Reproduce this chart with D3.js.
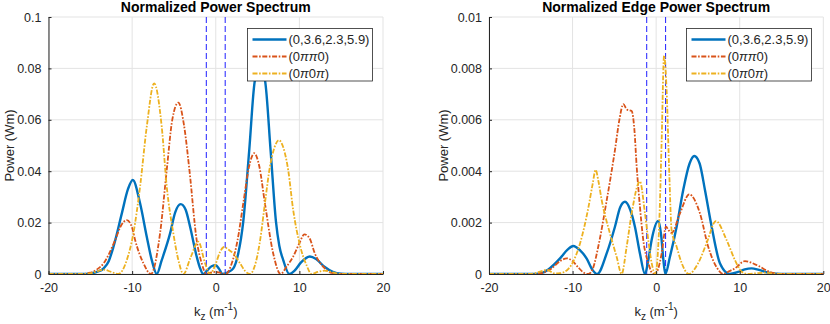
<!DOCTYPE html>
<html>
<head>
<meta charset="utf-8">
<script src="https://cdn.jsdelivr.net/npm/d3@7"></script>
<style>
  body { margin: 0; background: #fff; }
  svg { display: block; font-family: "Liberation Sans", Arial, Helvetica, sans-serif; }
  .tick text { fill: #262626; }
</style>
</head>
<body>
<svg id="chart" width="830" height="324"></svg>
<script>
// ---- data (k in 1/m, power in Wm) ----
const xTicks = [-20, -10, 0, 10, 20]
const xTickLabels = ["-20", "-10", "0", "10", "20"]
const leftYTicks = [0, 0.02, 0.04, 0.06, 0.08, 0.1]
const leftYTickLabels = ["0", "0.02", "0.04", "0.06", "0.08", "0.1"]
const rightYTicks = [0, 0.002, 0.004, 0.006, 0.008, 0.01]
const rightYTickLabels = ["0", "0.002", "0.004", "0.006", "0.008", "0.01"]
const seriesNames = ["(0,3.6,2.3,5.9)", "(0\u03c0\u03c00)", "(0\u03c00\u03c0)"]
const cutoffK = [-1.13, 1.13]

const powerMixed = [[-20,0],[-16,0],[-15,0.0002],[-14.2,0.0008],[-13.4,0.0022],[-12.8,0.005],[-12.23,0.0106],
  [-11.23,0.0236],[-10.5,0.033],[-9.92,0.0366],[-9.05,0.0275],[-8.25,0.0145],[-7.65,0.0054],[-7.05,0],
  [-6.46,0.0054],[-5.46,0.0158],[-4.85,0.024],[-4.19,0.0272],[-3.6,0.025],[-3.07,0.0184],[-2.28,0.0068],
  [-1.9,0.0025],[-1.5,0],[-1.0,0.0015],[-0.5,0.003],[0,0.0034],[0.4,0.002],[0.8,0],[1.4,0.0006],[2.1,0.0022],
  [2.69,0.008],[3.29,0.0204],[4.0,0.048],[4.69,0.0755],[5.3,0.08],[5.88,0.0755],[6.56,0.048],[7.2,0.0204],
  [7.6,0.011],[8.07,0.0054],[8.8,0],[9.4,0.0012],[10.2,0.0045],[11.25,0.0068],[12.0,0.0058],[13.0,0.0028],
  [14.0,0.0008],[15,0.0001],[16,0],[20,0]]
const powerPiPi = [[-20,0],[-16,0],[-15,0.0005],[-14.2,0.0018],[-13.4,0.0042],[-12.03,0.0132],[-11.3,0.019],
  [-10.64,0.021],[-10.0,0.018],[-9.64,0.0132],[-8.65,0.0042],[-7.75,0],[-6.66,0.0158],[-5.86,0.0405],
  [-5.2,0.06],[-4.47,0.0667],[-3.8,0.058],[-3.15,0.0405],[-2.28,0.0132],[-1.68,0.0042],[-1.1,0],
  [-0.5,0.0006],[0,0.0008],[0.5,0.0005],[1.2,0],[1.9,0.004],[2.6,0.013],[3.29,0.0275],[4.0,0.042],
  [4.6,0.047],[5.2,0.042],[5.88,0.0275],[6.87,0.008],[7.75,0],[8.5,0.003],[9.26,0.0068],[10.0,0.012],
  [10.6,0.0154],[11.2,0.014],[11.85,0.008],[13.05,0.0022],[13.85,0.0004],[15,0],[20,0]]
const powerPi0Pi = [[-20,0],[-16,0],[-15,0.0002],[-14.2,0.001],[-13.4,0.0017],[-12.5,0.0008],[-11.64,0],
  [-10.64,0.0054],[-9.85,0.0158],[-9.05,0.034],[-8.25,0.0573],[-7.37,0.0742],[-6.46,0.0573],[-5.86,0.034],
  [-5.07,0.0158],[-4.47,0.0054],[-3.87,0],[-3.0,0.0065],[-2.08,0.0126],[-1.28,0.0042],[-0.7,0],[0,0.004],
  [0.5,0.0085],[1.0,0.0105],[1.5,0.0095],[2.1,0.008],[2.9,0.0042],[3.5,0.0012],[4.09,0],[4.69,0.0034],
  [5.28,0.0126],[5.88,0.0275],[6.48,0.0418],[7.0,0.049],[7.55,0.0521],[8.1,0.049],[8.66,0.0405],
  [9.26,0.0249],[10.06,0.0113],[10.86,0.0034],[11.45,0],[12.2,0.0008],[13.0,0.0013],[14.0,0.0006],[15,0],[20,0]]

const edgeMixed = [[-20,0],[-15,0],[-13.9,0.00002],[-12.9,0.00018],[-11.5,0.00061],[-10.6,0.00095],
  [-9.92,0.00109],[-9.1,0.00092],[-8.31,0.0006],[-7.6,0.00015],[-7.05,0],[-5.92,0.0008],[-4.93,0.00184],
  [-4.3,0.0026],[-3.73,0.00281],[-3.1,0.0025],[-2.54,0.00184],[-1.94,0.0008],[-1.34,0],[-0.94,0.00054],
  [-0.54,0.00132],[0.25,0.00206],[0.6,0.0015],[0.85,0.0006],[1.1,0],[1.65,0.00067],[2.45,0.00184],
  [3.24,0.00327],[4.0,0.0043],[4.56,0.00459],[5.2,0.0043],[5.84,0.00327],[6.64,0.00184],[7.63,0.00042],
  [8.8,0],[9.8,0.00008],[10.6,0.00018],[11.42,0.00022],[12.3,0.00016],[13.6,0.00004],[15,0],[20,0]]
const edgePiPi = [[-20,0],[-15,0],[-13.9,0.00002],[-12.5,0.00022],[-11.5,0.0005],[-10.7,0.00061],
  [-10,0.0005],[-9.3,0.00025],[-8.7,0.00006],[-8.12,0],[-7.52,0.00026],[-6.93,0.00106],[-5.92,0.00286],
  [-4.93,0.00482],[-4.4,0.006],[-3.93,0.00661],[-3.5,0.0064],[-2.93,0.00634],[-2.6,0.0056],[-2.33,0.00418],
  [-1.94,0.00262],[-1.54,0.00132],[-0.94,0.00043],[-0.35,0],[0.1,0.0001],[0.66,0.0008],[1.17,0.00184],
  [1.5,0.0017],[1.85,0.0016],[2.85,0.00236],[3.96,0.0031],[5.24,0.00236],[6.23,0.00106],[7.24,0.00026],
  [8.03,0],[8.7,0.0001],[9.43,0.00022],[10.62,0.0005],[12.02,0.00035],[13.6,0.00008],[15,0],[20,0]]
const edgePi0Pi = [[-20,0],[-15,0],[-14,0.00008],[-13.1,0.00016],[-12.1,0.00002],[-11.5,0.00003],
  [-10.5,0.0002],[-9.9,0.0005],[-9.1,0.0012],[-8.1,0.0026],[-7.6,0.0035],[-7.24,0.00405],[-6.9,0.0036],
  [-6.52,0.00288],[-5.53,0.00158],[-4.73,0.00067],[-4.13,0],[-3.53,0.00106],[-2.93,0.00236],[-1.94,0.0036],
  [-1.34,0.00236],[-0.94,0.00132],[-0.54,0.00043],[-0.1,0],[0.2,0.0008],[0.37,0.00197],[0.66,0.00521],
  [0.95,0.0085],[1.25,0.00716],[1.57,0.00392],[1.85,0.0017],[2.45,0.00106],[3.05,0.00043],[3.9,0],
  [5.04,0.00043],[6.04,0.0012],[7.15,0.00206],[8.43,0.00132],[9.43,0.00054],[10.2,0.0001],[11,0],
  [12,0.00003],[13,0.00005],[14,0.00002],[15,0],[20,0]]

const colors = ["#0072BD", "#D95319", "#EDB120"]
const dashes = [null, "5,1.6,1.6,1.6", "5,1.6,1.6,1.6"]
const widths = [2.4, 1.8, 1.8]
const axisColor = "#262626"

const svg = d3.select("#chart")

function drawPanel(opts) {
  const {left, right, top, bottom, yMax, yTicks, yTickLabels, title, series, legend} = opts
  const g = svg.append("g")

  const x = d3.scaleLinear().domain([-20, 20]).range([left, right])
  const y = d3.scaleLinear().domain([0, yMax]).range([bottom, top])

  const clipId = "clip" + Math.round(left)
  svg.append("clipPath").attr("id", clipId)
    .append("rect").attr("x", left).attr("y", top - 1).attr("width", right - left).attr("height", bottom - top + 1)

  // grid
  g.selectAll("line.gx").data(xTicks).enter().append("line")
    .attr("x1", d => x(d)).attr("x2", d => x(d)).attr("y1", top).attr("y2", bottom)
    .attr("stroke", "#e3e3e3").attr("stroke-width", 1)
  g.selectAll("line.gy").data(yTicks).enter().append("line")
    .attr("y1", d => y(d)).attr("y2", d => y(d)).attr("x1", left).attr("x2", right)
    .attr("stroke", "#e3e3e3").attr("stroke-width", 1)

  // cutoff lines
  g.selectAll("line.cut").data(cutoffK).enter().append("line")
    .attr("x1", d => x(d)).attr("x2", d => x(d)).attr("y1", top).attr("y2", bottom)
    .attr("stroke", "#1f1fff").attr("stroke-width", 1).attr("stroke-dasharray", "6,3")

  // curves
  const line = d3.line().x(d => x(d[0])).y(d => y(d[1])).curve(d3.curveMonotoneX)
  const plot = g.append("g").attr("clip-path", "url(#" + clipId + ")")
  series.forEach((s, i) => {
    plot.append("path").datum(s)
      .attr("d", line)
      .attr("fill", "none")
      .attr("stroke", colors[i])
      .attr("stroke-width", widths[i])
      .attr("stroke-dasharray", dashes[i])
      .attr("stroke-linejoin", "round")
  })

  // axes
  const xAxis = d3.axisBottom(x).tickValues(xTicks).tickFormat((d, i) => xTickLabels[i])
    .tickSizeInner(-3).tickSizeOuter(0).tickPadding(9)
  const gx = g.append("g").attr("transform", "translate(0," + bottom + ")").call(xAxis)
  const yAxis = d3.axisLeft(y).tickValues(yTicks).tickFormat((d, i) => yTickLabels[i])
    .tickSizeInner(-3).tickSizeOuter(0).tickPadding(7)
  const gy = g.append("g").attr("transform", "translate(" + left + ",0)").call(yAxis)
  ;[gx, gy].forEach(a => {
    a.select(".domain").attr("stroke", axisColor)
    a.selectAll(".tick line").attr("stroke", axisColor)
    a.selectAll(".tick text").attr("font-size", 12.5).attr("fill", axisColor)
      .attr("font-family", "Liberation Sans, Arial, sans-serif")
  })

  // title
  g.append("text").attr("x", (left + right) / 2).attr("y", 12)
    .attr("text-anchor", "middle").attr("font-weight", "bold").attr("font-size", 14)
    .attr("fill", "#000").text(title)

  // x label
  const xl = g.append("text").attr("x", (left + right) / 2).attr("y", 316)
    .attr("text-anchor", "middle").attr("font-size", 13).attr("fill", axisColor)
  xl.append("tspan").text("k")
  xl.append("tspan").attr("font-size", 10).attr("dy", 4).text("z")
  xl.append("tspan").attr("dy", -4).text(" (m")
  xl.append("tspan").attr("font-size", 10).attr("dy", -6).text("-1")
  xl.append("tspan").attr("dy", 6).text(")")

  // y label
  g.append("text")
    .attr("transform", "translate(" + opts.yLabelX + "," + ((top + bottom) / 2) + ") rotate(-90)")
    .attr("text-anchor", "middle").attr("font-size", 13).attr("fill", axisColor)
    .text("Power (Wm)")

  // legend
  const lg = g.append("g").attr("transform", "translate(" + legend.x + "," + legend.y + ")")
  lg.append("rect").attr("width", 125).attr("height", 52.5)
    .attr("fill", "#fff").attr("stroke", axisColor).attr("stroke-width", 0.8)
  seriesNames.forEach((name, i) => {
    const cy = 11 + i * 17
    lg.append("line").attr("x1", 5).attr("x2", 39).attr("y1", cy).attr("y2", cy)
      .attr("stroke", colors[i]).attr("stroke-width", widths[i]).attr("stroke-dasharray", dashes[i])
    const t = lg.append("text").attr("x", 41).attr("y", cy + 4.5).attr("font-size", 13).attr("fill", axisColor)
    name.split(/(\u03c0)/).forEach(part => {
      if (!part) return
      const sp = t.append("tspan").text(part)
      if (part === "\u03c0") sp.attr("font-style", "italic")
    })
  })
}

drawPanel({
  left: 48.5, right: 383, top: 17, bottom: 274, yMax: 0.1,
  yTicks: leftYTicks, yTickLabels: leftYTickLabels,
  title: "Normalized Power Spectrum",
  series: [powerMixed, powerPiPi, powerPi0Pi],
  legend: {x: 247.5, y: 28.5},
  yLabelX: 14
})

drawPanel({
  left: 489, right: 823.3, top: 17, bottom: 274, yMax: 0.01,
  yTicks: rightYTicks, yTickLabels: rightYTickLabels,
  title: "Normalized Edge Power Spectrum",
  series: [edgeMixed, edgePiPi, edgePi0Pi],
  legend: {x: 686.5, y: 28.5},
  yLabelX: 448
})
</script>
</body>
</html>
